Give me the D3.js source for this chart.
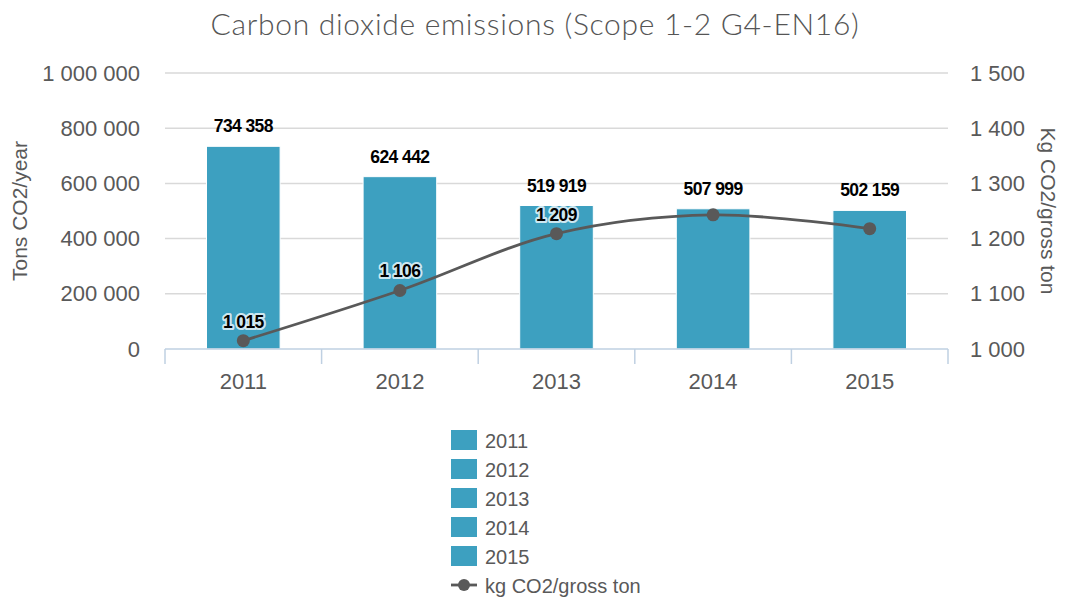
<!DOCTYPE html>
<html>
<head>
<meta charset="utf-8">
<script src="https://cdn.jsdelivr.net/npm/d3@7"></script>
<style>
  body { margin: 0; background: #fff; }
  text { font-family: "Liberation Sans", Arial, sans-serif; }
</style>
</head>
<body>
<div id="chart"></div>
<script>
// values
const years = ["2011", "2012", "2013", "2014", "2015"];
const emissions = [734358, 624442, 519919, 507999, 502159];
const intensity = [1015, 1106, 1209, 1243, 1218];
const intensityShown = [true, true, true, false, false];
const leftTicks = [0, 200000, 400000, 600000, 800000, 1000000];
const rightTicks = [1000, 1100, 1200, 1300, 1400, 1500];

const width = 1080, height = 601;
const margin = { top: 73, right: 132, bottom: 252, left: 165 };
const grey = "#595959";
const barColor = "#3da0c0";

const fmt = d3.formatLocale({ decimal: ",", thousands: " ", grouping: [3], currency: ["", ""] }).format(",d");

const svg = d3.select("#chart").append("svg")
  .attr("width", width).attr("height", height);

const x = d3.scaleBand().domain(years)
  .range([margin.left, width - margin.right])
  .paddingInner(0.53).paddingOuter(0.265);
const yL = d3.scaleLinear().domain([0, 1000000]).range([height - margin.bottom, margin.top]);
const yR = d3.scaleLinear().domain([1000, 1500]).range([height - margin.bottom, margin.top]);

// title
svg.append("text")
  .attr("x", 535).attr("y", 35)
  .attr("text-anchor", "middle")
  .style("font-family", "Lato, 'Open Sans', sans-serif")
  .style("font-weight", 300)
  .style("font-size", "30px")
  .style("letter-spacing", "0.7px")
  .attr("fill", "#555")
  .text("Carbon dioxide emissions (Scope 1-2 G4-EN16)");

// gridlines
svg.append("g").selectAll("line")
  .data(leftTicks.slice(1))
  .join("line")
  .attr("x1", margin.left).attr("x2", width - margin.right)
  .attr("y1", d => yL(d)).attr("y2", d => yL(d))
  .attr("stroke", "#d9d9d9").attr("stroke-width", 1.5);

// left axis
const axL = svg.append("g")
  .attr("transform", `translate(${margin.left - 25},0)`)
  .call(d3.axisLeft(yL).tickValues(leftTicks).tickFormat(fmt).tickSize(0).tickPadding(0));
axL.select(".domain").remove();
axL.selectAll("text").attr("fill", grey).style("font-size", "22px");

// right axis
const axR = svg.append("g")
  .attr("transform", `translate(${width - margin.right + 22},0)`)
  .call(d3.axisRight(yR).tickValues(rightTicks).tickFormat(fmt).tickSize(0).tickPadding(0));
axR.select(".domain").remove();
axR.selectAll("text").attr("fill", grey).style("font-size", "22px");

// bars
svg.append("g").selectAll("rect")
  .data(emissions)
  .join("rect")
  .attr("x", (d, i) => x(years[i]))
  .attr("width", x.bandwidth())
  .attr("y", d => yL(d))
  .attr("height", d => yL(0) - yL(d))
  .attr("fill", barColor)
  .attr("stroke", "#ffffff").attr("stroke-width", 1);

// bottom axis
const step = x.step();
const bounds = d3.range(years.length + 1).map(i => margin.left + i * step);
const base = yL(0);
svg.append("line")
  .attr("x1", margin.left).attr("x2", width - margin.right)
  .attr("y1", base).attr("y2", base)
  .attr("stroke", "#bfd0e2").attr("stroke-width", 1.5);
svg.append("g").selectAll("line")
  .data(bounds)
  .join("line")
  .attr("x1", d => d).attr("x2", d => d)
  .attr("y1", base).attr("y2", base + 15)
  .attr("stroke", "#bfd0e2").attr("stroke-width", 1.5);
svg.append("g").selectAll("text")
  .data(years)
  .join("text")
  .attr("x", d => x(d) + x.bandwidth() / 2)
  .attr("y", base + 40)
  .attr("text-anchor", "middle")
  .attr("fill", grey).style("font-size", "22px")
  .text(d => d);

// bar labels
svg.append("g").selectAll("text")
  .data(emissions)
  .join("text")
  .attr("x", (d, i) => x(years[i]) + x.bandwidth() / 2)
  .attr("y", d => yL(d) - 14)
  .attr("text-anchor", "middle")
  .style("font-size", "17.5px").style("font-weight", "bold")
  .style("letter-spacing", "-0.6px")
  .attr("fill", "#000")
  .text(d => fmt(d));

// line series
const cx = (d, i) => x(years[i]) + x.bandwidth() / 2;
const line = d3.line()
  .x(cx).y(d => yR(d))
  .curve(d3.curveCatmullRom.alpha(0.5));
svg.append("path")
  .datum(intensity)
  .attr("d", line)
  .attr("fill", "none")
  .attr("stroke", grey).attr("stroke-width", 2.8);
svg.append("g").selectAll("circle")
  .data(intensity)
  .join("circle")
  .attr("cx", cx).attr("cy", d => yR(d))
  .attr("r", 6.5).attr("fill", grey);

svg.append("g").selectAll("text")
  .data(intensity.filter((d, i) => intensityShown[i]))
  .join("text")
  .attr("x", cx)
  .attr("y", d => yR(d) - 13)
  .attr("text-anchor", "middle")
  .style("font-size", "17.5px").style("font-weight", "bold")
  .style("letter-spacing", "-0.6px")
  .attr("fill", "#000")
  .attr("stroke", "rgba(225,242,248,0.9)").attr("stroke-width", 4)
  .attr("stroke-linejoin", "round")
  .style("paint-order", "stroke")
  .text(d => fmt(d));

// axis titles
svg.append("text")
  .attr("transform", `translate(27,${(yL(0) + yL(1000000)) / 2}) rotate(-90)`)
  .attr("text-anchor", "middle")
  .attr("fill", grey).style("font-size", "21px")
  .text("Tons CO2/year");
svg.append("text")
  .attr("transform", `translate(1041,${(yL(0) + yL(1000000)) / 2}) rotate(90)`)
  .attr("text-anchor", "middle")
  .attr("fill", grey).style("font-size", "21px")
  .text("Kg CO2/gross ton");

// legend
const legend = svg.append("g").attr("transform", "translate(451,440)");
const rowH = 29;
years.forEach((yr, i) => {
  const g = legend.append("g").attr("transform", `translate(0,${i * rowH})`);
  g.append("rect").attr("x", 0).attr("y", -10).attr("width", 26).attr("height", 20).attr("fill", barColor);
  g.append("text").attr("x", 34).attr("y", 7.5).attr("fill", grey).style("font-size", "20px").text(yr);
});
const lg = legend.append("g").attr("transform", `translate(0,${years.length * rowH})`);
lg.append("line").attr("x1", 0).attr("x2", 26).attr("y1", 0).attr("y2", 0)
  .attr("stroke", grey).attr("stroke-width", 2.8);
lg.append("circle").attr("cx", 13).attr("cy", 0).attr("r", 6).attr("fill", grey);
lg.append("text").attr("x", 34).attr("y", 7.5).attr("fill", grey).style("font-size", "20px").text("kg CO2/gross ton");
</script>
</body>
</html>
